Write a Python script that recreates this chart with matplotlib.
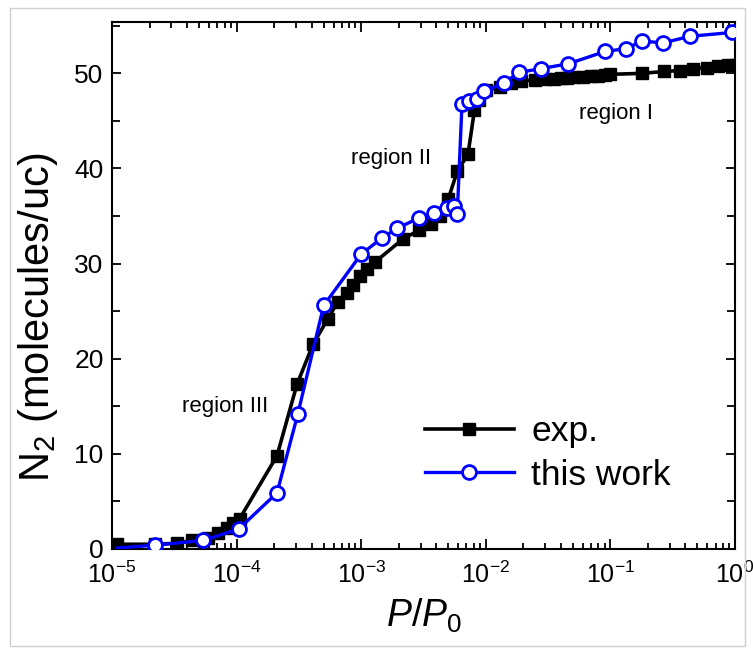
import numpy as np
import matplotlib
matplotlib.use("Agg")
import matplotlib.pyplot as plt
from matplotlib.patches import Rectangle
from matplotlib.ticker import LogLocator, LogFormatterMathtext, MultipleLocator

# experimental isotherm (black squares)
p_exp = [1.1e-5, 2.2e-5, 3.3e-5, 4.4e-5, 5.9e-5, 7.1e-5, 8.4e-5, 9.4e-5, 1.06e-4,
         2.11e-4, 3.05e-4, 4.1e-4, 5.4e-4, 6.5e-4, 7.7e-4, 8.6e-4, 9.8e-4, 1.11e-3,
         1.3e-3, 2.17e-3, 2.9e-3, 3.6e-3, 4.3e-3, 5.0e-3, 5.9e-3, 7.2e-3, 8.1e-3,
         8.9e-3, 1.0e-2, 1.3e-2, 1.6e-2, 1.9e-2, 0.025, 0.03, 0.035, 0.04, 0.045,
         0.05, 0.06, 0.07, 0.08, 0.09, 0.1, 0.18, 0.27, 0.36, 0.46, 0.6, 0.73, 0.88, 1.0]
n_exp = [0.5, 0.5, 0.6, 0.9, 1.2, 1.7, 2.2, 2.7, 3.2,
         9.8, 17.3, 21.5, 24.2, 26.0, 26.9, 27.8, 28.7, 29.4,
         30.2, 32.6, 33.5, 34.2, 35.0, 36.8, 39.7, 41.5, 46.1,
         47.2, 48.2, 48.6, 49.0, 49.2, 49.3, 49.4, 49.4, 49.5, 49.5,
         49.6, 49.6, 49.7, 49.7, 49.8, 49.9, 50.0, 50.2, 50.3, 50.5, 50.6, 50.8, 50.9, 50.9]

# simulated isotherm (blue open circles)
p_sim = [1.1e-5, 2.2e-5, 5.4e-5, 1.04e-4, 2.11e-4, 3.1e-4, 5.0e-4, 1.0e-3, 1.47e-3,
         1.94e-3, 2.9e-3, 3.84e-3, 4.88e-3, 5.6e-3, 5.9e-3, 6.44e-3, 7.33e-3, 8.5e-3,
         9.7e-3, 1.4e-2, 1.85e-2, 2.77e-2, 4.57e-2, 9.06e-2, 0.133, 0.18, 0.264, 0.436, 0.95]
n_sim = [0.1, 0.4, 0.9, 2.1, 5.9, 14.2, 25.6, 31.0, 32.7,
         33.7, 34.8, 35.3, 35.8, 36.1, 35.2, 46.8, 47.1, 47.3,
         48.1, 49.0, 50.1, 50.5, 51.0, 52.3, 52.6, 53.4, 53.2, 53.9, 54.3]

region_labels = ["region I", "region II", "region III"]
region_pos = [(0.111, 45.8), (1.73e-3, 41.0), (8.1e-5, 15.0)]

plt.rcParams['font.family'] = ['Liberation Sans', 'DejaVu Sans']
plt.rcParams['mathtext.fontset'] = 'custom'
plt.rcParams['mathtext.rm'] = 'Liberation Sans'
plt.rcParams['mathtext.it'] = 'Liberation Sans:italic'

fig = plt.figure(figsize=(7.53, 6.52), dpi=100)
ax = fig.add_axes([112/753, 1-549/652, (735-112)/753, (549-22)/652])

ax.plot(p_exp, n_exp, color='black', lw=2.6, marker='s', ms=8.5,
        mfc='black', mec='black', label='exp.', zorder=3)
ax.plot(p_sim, n_sim, color='blue', lw=2.4, marker='o', ms=10,
        mfc='white', mec='blue', mew=2.0, markevery=list(range(1, len(p_sim))),
        label='this work', zorder=4)

ax.set_xscale('log')
ax.set_xlim(1e-5, 1.0)
ax.set_ylim(0, 55.4)

ax.xaxis.set_major_locator(LogLocator(base=10, numticks=10))
ax.xaxis.set_minor_locator(LogLocator(base=10, subs=np.arange(2, 10), numticks=20))
ax.xaxis.set_major_formatter(LogFormatterMathtext())
ax.yaxis.set_major_locator(MultipleLocator(10))
ax.yaxis.set_minor_locator(MultipleLocator(5))

ax.tick_params(which='both', direction='in', top=True, right=True, width=1.3)
ax.tick_params(axis='x', which='major', length=7, pad=9, labelsize=18)
ax.tick_params(axis='x', which='minor', length=4.5)
ax.tick_params(axis='y', which='major', length=6.5, pad=6, labelsize=19)
ax.tick_params(axis='y', which='minor', length=6)
for s in ax.spines.values():
    s.set_linewidth(1.5)

ax.set_xlabel('$P/P_0$', fontsize=27, labelpad=6)
ax.set_ylabel('N$_2$ (molecules/uc)', fontsize=30)
ax.yaxis.set_label_coords(-0.084, 0.44)

for txt, (x, y) in zip(region_labels, region_pos):
    ax.text(x, y, txt, fontsize=16, ha='center', va='center')

ax.legend(loc='upper left', bbox_to_anchor=(425/753, 1-415/652),
          bbox_transform=fig.transFigure, frameon=False, fontsize=25.5,
          borderpad=0, borderaxespad=0, handlelength=2.5, handletextpad=0.5,
          labelspacing=0.3)

# thin grey frame around the whole picture
fig.patches.append(Rectangle((10/753, 6/652), 735/753, 638/652, transform=fig.transFigure,
                             fill=False, edgecolor='#cfcfcf', lw=1))

fig.savefig('out.png', dpi=100)
